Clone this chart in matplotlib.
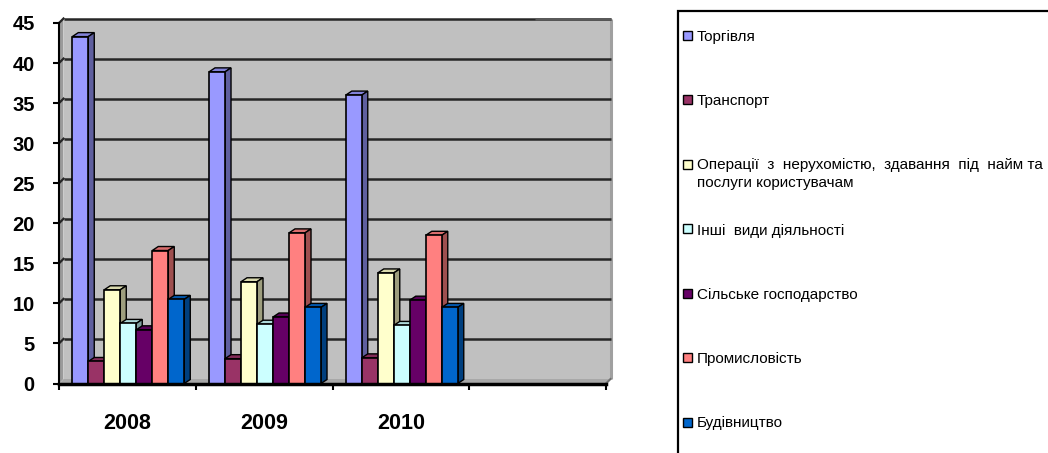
import matplotlib
matplotlib.use("Agg")
import matplotlib.pyplot as plt
from matplotlib.patches import Polygon, Rectangle

plt.rcParams['font.family'] = ['Liberation Sans', 'DejaVu Sans']

# ---- data -------------------------------------------------------------
years = ["2008", "2009", "2010", ""]
series_names = [
    "Торгівля",
    "Транспорт",
    "Операції  з  нерухомістю,  здавання  під  найм та\nпослуги користувачам",
    "Інші  види діяльності",
    "Сільське господарство",
    "Промисловість",
    "Будівництво",
]
trade = [43.3, 38.9, 36.0]
transport = [2.75, 3.1, 3.2]
real_estate = [11.7, 12.7, 13.8]
other = [7.5, 7.4, 7.25]
agriculture = [6.7, 8.3, 10.4]
industry = [16.6, 18.8, 18.5]
construction = [10.5, 9.5, 9.5]
values = [trade, transport, real_estate, other, agriculture, industry, construction]
colors = ["#9999FF", "#993366", "#FFFFCC", "#CCFFFF", "#660066", "#FF8080", "#0066CC"]
yticks = [0, 5, 10, 15, 20, 25, 30, 35, 40, 45]

# ---- figure / axes ------------------------------------------------------
W, H = 1048, 453
fig = plt.figure(figsize=(W / 100, H / 100), dpi=100)
x0, x1, yb, yt = 59, 606, 383.5, 23
ax = fig.add_axes([x0 / W, (H - yb) / H, (x1 - x0) / W, (yb - yt) / H])
ncat = len(years)
ymax = 45
ax.set_xlim(0, ncat)
ax.set_ylim(0, ymax)
ax.patch.set_alpha(0)

px_x = (x1 - x0) / ncat          # pixels per x unit
px_y = (yb - yt) / ymax          # pixels per y unit

# depth of the wall and of the bars (in data units)
wdx, wdy = 4.5 / px_x, 4.5 / px_y
bdx, bdy = 6.0 / px_x, 4.0 / px_y


def shade(c, f):
    r, g, b = matplotlib.colors.to_rgb(c)
    return (r * f, g * f, b * f)


# back wall, side wall and floor
ax.add_patch(Polygon([(wdx, wdy), (ncat + wdx, wdy), (ncat + wdx, ymax + wdy), (wdx, ymax + wdy)],
                     closed=True, facecolor="#C0C0C0", edgecolor="none", zorder=0, clip_on=False))
ax.add_patch(Polygon([(0, 0), (wdx, wdy), (wdx, ymax + wdy), (0, ymax)],
                     closed=True, facecolor="#9A9A9A", edgecolor="none", zorder=0, clip_on=False))
ax.add_patch(Polygon([(0, 0), (ncat, 0), (ncat + wdx, wdy), (wdx, wdy)],
                     closed=True, facecolor="#A8A8A8", edgecolor="none", zorder=0, clip_on=False))
# right edge of the wall
ax.plot([ncat + wdx, ncat + wdx], [wdy, ymax + wdy], color="#A0A0A0", lw=2.2,
        clip_on=False, zorder=1, solid_capstyle="butt")
ax.plot([ncat, ncat + wdx], [0, wdy], color="#707070", lw=1.5, clip_on=False, zorder=1)

# gridlines on the walls
for v in yticks[1:]:
    ax.plot([wdx, ncat + wdx], [v + wdy, v + wdy], color="#262626", lw=1.8,
            clip_on=False, zorder=1, solid_capstyle="butt")
    ax.plot([0, wdx], [v, v + wdy], color="#262626", lw=1.6, clip_on=False, zorder=1)
ax.plot([3.45 + wdx, ncat + wdx], [ymax + wdy, ymax + wdy], color="#5A5A5A", lw=1.8,
        clip_on=False, zorder=1, solid_capstyle="butt")

# bars
offset = 0.097
bw = 0.117
for k in range(len(trade)):
    for j, (vals, c) in enumerate(zip(values, colors)):
        h = vals[k]
        left = k + offset + j * bw
        right = left + bw
        z = 2 + k * 10 + j
        ax.bar(left, h, width=bw, align="edge", color=c, edgecolor="black", lw=1.2, zorder=z + 0.3)
        ax.add_patch(Polygon([(left, h), (right, h), (right + bdx, h + bdy), (left + bdx, h + bdy)],
                             closed=True, facecolor=shade(c, 0.85), edgecolor="black", lw=1.0,
                             zorder=z + 0.1, clip_on=False))
        ax.add_patch(Polygon([(right, 0), (right + bdx, bdy), (right + bdx, h + bdy), (right, h)],
                             closed=True, facecolor=shade(c, 0.62), edgecolor="black", lw=1.0,
                             zorder=z + 0.2, clip_on=False))

# axes and ticks
for s in ["top", "right"]:
    ax.spines[s].set_visible(False)
ax.spines["left"].set_linewidth(1.5)
ax.spines["bottom"].set_linewidth(2.5)
ax.spines["left"].set_zorder(50)
ax.spines["bottom"].set_zorder(50)
ax.set_yticks(yticks)
ax.set_yticklabels([str(v) for v in yticks], fontsize=14.5, fontweight="bold")
ax.tick_params(axis="y", direction="out", length=4, width=1.5, pad=13.5)
ax.set_xticks(range(ncat + 1))
ax.set_xticklabels([])
ax.tick_params(axis="x", which="major", direction="out", length=4.5, width=1.5)
ax.set_xticks([i + 0.5 for i in range(len(trade))], minor=True)
ax.set_xticklabels(years[:len(trade)], minor=True, fontsize=15.5, fontweight="bold")
ax.tick_params(axis="x", which="minor", length=0, pad=21.5)

# legend box
def fx(p):
    return p / W


def fy(p):
    return 1 - p / H


fig.patches.append(Rectangle((fx(678), fy(470)), fx(400), 459 / H, transform=fig.transFigure,
                             facecolor="white", edgecolor="black", lw=1.6, clip_on=False))
leg_y = [35, 99, 164, 229, 293, 357, 422]
line_step = 17
for name, c, yy in zip(series_names, colors, leg_y):
    fig.patches.append(Rectangle((fx(683), fy(yy + 4.5)), 9 / W, 9 / H, transform=fig.transFigure,
                                 facecolor=c, edgecolor="black", lw=1.0))
    for i, line in enumerate(name.split("\n")):
        fig.text(fx(697), fy(yy + 5.5 + line_step * i), line, fontsize=11,
                 va="baseline", ha="left")

fig.savefig("out.png", dpi=100)
